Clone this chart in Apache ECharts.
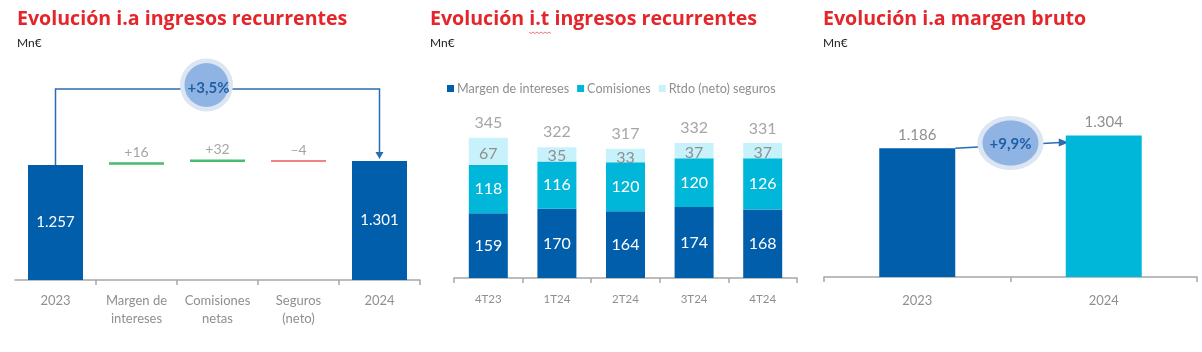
<!DOCTYPE html>
<html><head><meta charset="utf-8">
<script src="https://cdn.jsdelivr.net/npm/echarts@6.0.0/dist/echarts.min.js"></script>
<style>html,body{margin:0;padding:0;background:#fff}#c{width:1202px;height:352px}</style>
</head><body><div id="c"></div>
<script>
// ---------- Data ----------
// Panel 1: waterfall
const wfCategories = ['2023', 'Margen de\nintereses', 'Comisiones\nnetas', 'Seguros\n(neto)', '2024'];
const wfTotals = [1257, null, null, null, 1301];
const wfDeltas = [null, 16, 32, -4, null];
const wfChange = '+3,5%';
// Panel 2: quarterly stacked
const qCategories = ['4T23', '1T24', '2T24', '3T24', '4T24'];
const qMargen = [159, 170, 164, 174, 168];
const qComisiones = [118, 116, 120, 120, 126];
const qSeguros = [67, 35, 33, 37, 37];
const qTotals = [345, 322, 317, 332, 331];
const qLegend = ['Margen de intereses', 'Comisiones', 'Rtdo (neto) seguros'];
// Panel 3: margen bruto
const mbCategories = ['2023', '2024'];
const mbValues = [1186, 1304];
const mbChange = '+9,9%';

// ---------- Styles ----------
const FONT = 'Lato';
const TFONT = 'Open Sans';
const RED = '#e4262b';
const DARK = '#005eaa';
const CYAN = '#00b7d9';
const LIGHT = '#c8f2fb';
const GRAY = '#8f8f8f';
const AXIS = '#a6a6a6';
const GREEN = '#1aaa4b';
const LINE = '#2a6bb3';

// running sums for waterfall delta markers
let running = wfTotals[0];
const wfDeltaPos = wfDeltas.map(d => { if (d == null) return '-'; running += d; return running; });

const chart = echarts.init(document.getElementById('c'), null, {renderer: 'canvas'});

function xAxisCfg(grid, data, fs, margin, tickInterval) {
  return {
    type: 'category', gridIndex: grid, data: data,
    axisLine: {lineStyle: {color: AXIS, width: 1.5}},
    axisTick: {show: true, length: 5, interval: tickInterval, lineStyle: {color: AXIS, width: 1.5}},
    axisLabel: {color: GRAY, fontSize: fs, fontFamily: FONT, margin: margin, lineHeight: 18, interval: 0}
  };
}
function yAxisCfg(grid, max) {
  return {type: 'value', gridIndex: grid, min: 0, max: max, show: false, splitLine: {show: false}};
}

const titleStyle = {color: RED, fontSize: 19.6, fontWeight: 'bold', fontFamily: TFONT};
const subStyle = {color: '#222', fontSize: 12, fontFamily: FONT};

chart.setOption({
  animation: false,
  textStyle: {fontFamily: FONT},
  title: [
    {text: 'Evolución i.a ingresos recurrentes', subtext: 'Mn€', left: 17, top: 9, padding: 0, itemGap: 8, textStyle: titleStyle, subtextStyle: subStyle},
    {text: 'Evolución i.t ingresos recurrentes', subtext: 'Mn€', left: 430, top: 9, padding: 0, itemGap: 8, textStyle: titleStyle, subtextStyle: subStyle},
    {text: 'Evolución i.a margen bruto', subtext: 'Mn€', left: 823, top: 9, padding: 0, itemGap: 8, textStyle: titleStyle, subtextStyle: subStyle}
  ],
  legend: {
    data: qLegend, left: 442, top: 77, icon: 'rect', itemWidth: 7, itemHeight: 7, itemGap: 8,
    textStyle: {color: GRAY, fontSize: 12.6, fontFamily: FONT, padding: [0, 0, 0, -2]}, selectedMode: false
  },
  grid: [
    {left: 15, width: 405, top: 152, height: 128},
    {left: 454, width: 343, top: 115, height: 163},
    {left: 824, width: 373, top: 125, height: 152}
  ],
  xAxis: [
    xAxisCfg(0, wfCategories, 13, 12, i => i !== 0),
    xAxisCfg(1, qCategories, 11.5, 12, 0),
    xAxisCfg(2, mbCategories, 13, 15, 0)
  ],
  yAxis: [yAxisCfg(0, 1400), yAxisCfg(1, 400), yAxisCfg(2, 1400)],
  series: [
    {type: 'bar', xAxisIndex: 0, yAxisIndex: 0, barWidth: 55, silent: true,
     data: wfTotals.map(v => v == null ? '-' : v), itemStyle: {color: DARK},
     label: {show: true, position: 'inside', color: '#fff', fontSize: 15, fontFamily: FONT,
       formatter: p => echarts.format.addCommas(p.value).replace(/,/g, '.')}},
    {type: 'scatter', xAxisIndex: 0, yAxisIndex: 0, silent: true, symbol: 'rect',
     data: wfDeltaPos.map((v, i) => v === '-' ? '-' : {
       value: v,
       symbolSize: wfDeltas[i] >= 0 ? [55, 2.5] : [55, 1.5],
       itemStyle: {color: wfDeltas[i] >= 0 ? GREEN : '#e8332f'},
       label: {formatter: (wfDeltas[i] >= 0 ? '+' : '–') + Math.abs(wfDeltas[i])}
     }),
     label: {show: true, position: 'top', distance: 3, color: GRAY, fontSize: 14, fontFamily: FONT}},
    {name: qLegend[0], type: 'bar', stack: 'q', xAxisIndex: 1, yAxisIndex: 1, barWidth: 39, silent: true,
     data: qMargen, itemStyle: {color: DARK},
     label: {show: true, position: 'inside', color: '#fff', fontSize: 16, fontFamily: FONT}},
    {name: qLegend[1], type: 'bar', stack: 'q', xAxisIndex: 1, yAxisIndex: 1, barWidth: 39, silent: true,
     data: qComisiones, itemStyle: {color: CYAN},
     label: {show: true, position: 'inside', color: '#fff', fontSize: 16, fontFamily: FONT}},
    {name: qLegend[2], type: 'bar', stack: 'q', xAxisIndex: 1, yAxisIndex: 1, barWidth: 39, silent: true,
     data: qSeguros, itemStyle: {color: LIGHT},
     label: {show: true, position: 'inside', offset: [0, 2], color: GRAY, fontSize: 16, fontFamily: FONT}},
    {type: 'scatter', xAxisIndex: 1, yAxisIndex: 1, silent: true, symbolSize: 1,
     data: qTotals, itemStyle: {color: 'rgba(0,0,0,0)'},
     label: {show: true, position: 'top', distance: 6, color: GRAY, fontSize: 16, fontFamily: FONT}},
    {type: 'bar', xAxisIndex: 2, yAxisIndex: 2, barWidth: 76, silent: true,
     data: mbValues.map((v, i) => ({value: v, itemStyle: {color: i === 0 ? DARK : CYAN}})),
     label: {show: true, position: 'top', distance: 6, color: GRAY, fontSize: 15, fontFamily: FONT,
       formatter: p => echarts.format.addCommas(p.value).replace(/,/g, '.')}}
  ]
});

// ---------- Annotations (positions from the axes) ----------
const f0 = {xAxisIndex: 0, yAxisIndex: 0};
const f2 = {xAxisIndex: 2, yAxisIndex: 2};
const a = chart.convertToPixel(f0, [0, wfTotals[0]]);
const b = chart.convertToPixel(f0, [4, wfTotals[4]]);
const bracketY = 89;
const c1x = (a[0] + b[0]) / 2 - 11, c1y = 85;

const m1 = chart.convertToPixel(f2, [0, mbValues[0]]);
const m2 = chart.convertToPixel(f2, [1, mbValues[1]]);
const sx = m1[0] + 38, sy = m1[1];
const ex = m2[0] - 35, ey = m2[1] + 7;
const c2x = (m1[0] + m2[0]) / 2, c2y = 143;

chart.setOption({
  graphic: [
    {type: 'polyline', silent: true, shape: {points: [[a[0], a[1]], [a[0], bracketY], [b[0], bracketY], [b[0], b[1] - 9]]},
     style: {stroke: LINE, lineWidth: 1.5, fill: null}},
    {type: 'polygon', silent: true, shape: {points: [[b[0] - 4, b[1] - 9], [b[0] + 4, b[1] - 9], [b[0], b[1] - 2]]},
     style: {fill: LINE}},
    {type: 'circle', silent: true, shape: {cx: c1x, cy: c1y, r: 26.5}, style: {fill: '#dce5f2'}},
    {type: 'circle', silent: true, shape: {cx: c1x, cy: c1y, r: 22}, style: {fill: '#8fb4e3'}},
    {type: 'text', silent: true, x: c1x + 2, y: bracketY - 1, style: {text: wfChange, fill: '#1f5fa6', font: 'bold 15px ' + FONT, align: 'center', verticalAlign: 'middle'}},

    {type: 'line', silent: true, shape: {x1: sx, y1: sy, x2: ex - 8, y2: ey}, style: {stroke: LINE, lineWidth: 1.5}},
    {type: 'polygon', silent: true, shape: {points: [[ex - 10, ey - 4], [ex - 10, ey + 4], [ex, ey]]}, style: {fill: LINE}},
    {type: 'ellipse', silent: true, shape: {cx: c2x, cy: c2y, rx: 33, ry: 27}, style: {fill: '#dce5f2'}},
    {type: 'ellipse', silent: true, shape: {cx: c2x, cy: c2y, rx: 28, ry: 22.5}, style: {fill: '#8fb4e3'}},
    {type: 'text', silent: true, x: c2x, y: c2y + 1, style: {text: mbChange, fill: '#1f5fa6', font: 'bold 15px ' + FONT, align: 'center', verticalAlign: 'middle'}},

    // spell-check squiggle under "i.t"
    {type: 'polyline', silent: true, shape: {points: [[529,32],[531,33.5],[533,32],[535,33.5],[537,32],[539,33.5],[541,32],[543,33.5],[545,32],[547,33.5],[549,32],[551,33.5]]},
     style: {stroke: '#e05a5a', lineWidth: 0.8, fill: null}}
  ]
});
</script>
</body></html>
